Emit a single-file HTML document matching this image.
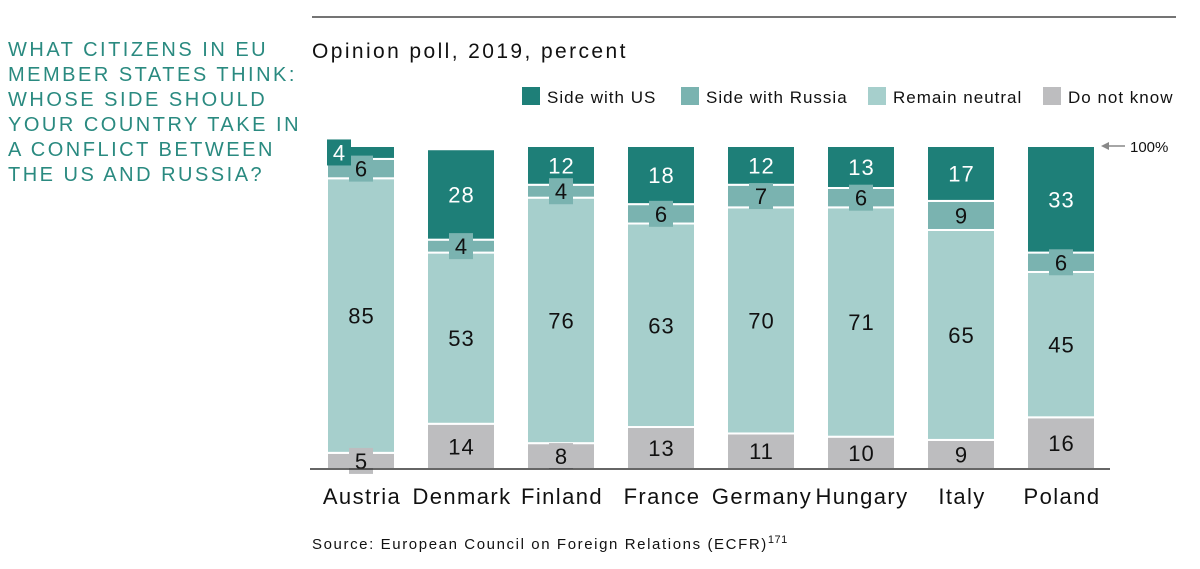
<!DOCTYPE html>
<html><head><meta charset="utf-8"><style>
body{margin:0;background:#fff;width:1200px;height:569px;overflow:hidden;font-family:"Liberation Sans",sans-serif}
svg{display:block}
</style></head><body>
<svg id="c" width="1200" height="569">
<line x1="312" y1="17" x2="1176" y2="17" stroke="#222" stroke-width="1.2"/>
<g fill="#2a8a80" font-size="20" letter-spacing="2.5">
<text x="8" y="56">WHAT CITIZENS IN EU</text>
<text x="8" y="81">MEMBER STATES THINK:</text>
<text x="8" y="106">WHOSE SIDE SHOULD</text>
<text x="8" y="131">YOUR COUNTRY TAKE IN</text>
<text x="8" y="156">A CONFLICT BETWEEN</text>
<text x="8" y="181">THE US AND RUSSIA?</text>
</g>
<text x="312" y="58" font-size="21" letter-spacing="2.4" fill="#111">Opinion poll, 2019, percent</text>
<g id="legend"></g>
<g id="bars"></g>
<line x1="310" y1="469" x2="1110" y2="469" stroke="#333" stroke-width="1.5"/>
<g>
<line x1="1103" y1="146" x2="1125" y2="146" stroke="#888" stroke-width="1.5"/>
<path d="M1101 146 L1109 142 L1109 150 Z" fill="#888"/>
<text x="1130" y="152" font-size="15" fill="#111">100%</text>
</g>
<text x="312" y="549" font-size="15" letter-spacing="1.6" fill="#111">Source: European Council on Foreign Relations (ECFR)<tspan font-size="11" letter-spacing="0.5" dy="-6">171</tspan></text>
</svg>
<script>
const categories=["Austria","Denmark","Finland","France","Germany","Hungary","Italy","Poland"];
const sideUS=[4,28,12,18,12,13,17,33];
const sideRussia=[6,4,4,6,7,6,9,6];
const neutral=[85,53,76,63,70,71,65,45];
const dontKnow=[5,14,8,13,11,10,9,16];
const seriesNames=["Side with US","Side with Russia","Remain neutral","Do not know"];
const colors=["#1e7f78","#7ab3b0","#a6cfcc","#bdbdbf"];
const textColors=["#fff","#111","#111","#111"];
const NS="http://www.w3.org/2000/svg";
const base=469, pxPer=3.23, x0=327, pitch=100, bw=68;
const y=v=>base-v*pxPer;
const xPos=i=>x0+i*pitch;
function mk(t,a,p){const e=document.createElementNS(NS,t);for(const k in a)e.setAttribute(k,a[k]);p.appendChild(e);return e;}
const bars=document.getElementById('bars');
const series=[dontKnow,neutral,sideRussia,sideUS];
const sIdx=[3,2,1,0];
categories.forEach((c,i)=>{
  const g=mk('g',{},bars);
  
  
  let cum=0;const labels=[];
  series.forEach((arr,k)=>{
    const v=arr[i],s=sIdx[k];
    const top=y(cum+v),bot=y(cum);
    const r=mk('rect',{x:xPos(i),y:top,width:bw,height:bot-top,fill:colors[s],stroke:'#fff','stroke-width':2},g);
    
    
    labels.push({v,s,cy:(top+bot)/2,h:bot-top});
    cum+=v;
  });
  labels.forEach(L=>{
    const fs={'text-anchor':'middle','font-size':22,'letter-spacing':1,fill:textColors[L.s]};
    if(L.h<30){
      let bx=xPos(i)+bw/2-12;
      if(c==="Austria"&&L.s===0) bx=xPos(i);
      const b=mk('rect',{x:bx,y:L.cy-13,width:24,height:26,fill:colors[L.s]},g);
      
      
      const t=mk('text',Object.assign({x:bx+12.5,y:L.cy+8},fs),g);
      
      
      t.textContent=L.v;
    } else {
      const t=mk('text',Object.assign({x:xPos(i)+bw/2+0.5,y:L.cy+8},fs),g);
      
      
      t.textContent=L.v;
    }
  });
  const t=mk('text',{x:xPos(i)+bw/2+1,y:504,'text-anchor':'middle','font-size':22,'letter-spacing':1.4,fill:'#111'},bars);
  
  
  t.textContent=c;
});
const lg=document.getElementById('legend');
const lx=[522,681,868,1043];
seriesNames.forEach((n,k)=>{
  const r=mk('rect',{x:lx[k],y:87,width:18,height:18,fill:colors[k]},lg);
  
  
  const t=mk('text',{x:lx[k]+25,y:103,'font-size':17,'letter-spacing':1,fill:'#111'},lg);
  
  
  t.textContent=n;
});
</script>
</body></html>
